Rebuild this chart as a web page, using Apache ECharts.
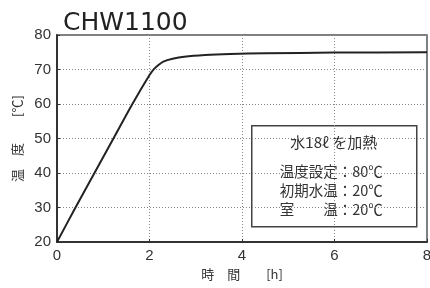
<!DOCTYPE html>
<html>
<head>
<meta charset="UTF-8">
<title>CHW1100</title>
<script src="https://cdn.jsdelivr.net/npm/echarts@6/dist/echarts.min.js"></script>
<style>
  html, body { margin: 0; padding: 0; background: #fff; }
  #chart { width: 430px; height: 288px; }
</style>
</head>
<body>
<div id="chart"></div>
<script>
// 時間 [h] と 温度 [℃]
var hours = [0, 0.4, 0.81, 1.22, 1.63, 2.0, 2.1, 2.2, 2.3, 2.5, 2.75, 3.2, 3.75, 4.5, 6, 8];
var temps = [20, 30, 40, 50, 60, 68.4, 70.2, 71.4, 72.3, 73.1, 73.7, 74.2, 74.5, 74.7, 74.9, 75];
var xTicks = [0, 2, 4, 6, 8];
var yTicks = [20, 30, 40, 50, 60, 70, 80];
var noteTitle = '水18ℓ を加熱';
var noteLines = ['温度設定：80℃', '初期水温：20℃', '室　　温：20℃'];

var jp = '"Noto Sans CJK JP", sans-serif';
var num = '"Liberation Sans", Arial, sans-serif';

var pts = [];
for (var i = 0; i < hours.length; i++) pts.push([hours[i], temps[i]]);

var chart = echarts.init(document.getElementById('chart'), null, { renderer: 'canvas' });

var noteChildren = [{
  type: 'rect',
  shape: { x: 0, y: 0, width: 165, height: 101 },
  style: { fill: '#fff', stroke: '#444', lineWidth: 1.5 }
}, {
  type: 'text',
  style: { x: 82, y: 17, text: noteTitle, fill: '#333', font: '15px ' + jp, textAlign: 'center', textVerticalAlign: 'middle' }
}];
for (var j = 0; j < noteLines.length; j++) {
  noteChildren.push({
    type: 'text',
    style: { x: 28, y: 46 + j * 19, text: noteLines[j], fill: '#333', font: '14.5px ' + jp, textVerticalAlign: 'middle' }
  });
}

chart.setOption({
  animation: false,
  title: {
    text: 'CHW1100',
    left: 58, top: 6,
    textStyle: { fontFamily: '"DejaVu Sans", sans-serif', fontSize: 25, fontWeight: 'normal', color: '#222' }
  },
  grid: {
    left: 57, right: 3, top: 35, bottom: 46,
    outerBoundsMode: 'none', containLabel: false,
    show: true, borderColor: '#555', borderWidth: 1.5
  },
  xAxis: {
    type: 'value', min: 0, max: 8, interval: 2,
    name: '時　間　　[h]', nameLocation: 'middle', nameGap: 24,
    nameTextStyle: { fontFamily: jp, fontSize: 13, color: '#333' },
    axisLine: { lineStyle: { color: '#333', width: 2 } },
    axisTick: { show: true, inside: true, length: 3, lineStyle: { color: '#333' } },
    axisLabel: { fontFamily: num, fontSize: 15, color: '#333', margin: 6 },
    splitLine: { show: true, lineStyle: { color: '#888', type: [1, 2], width: 1 } }
  },
  yAxis: {
    type: 'value', min: 20, max: 80, interval: 10,
    name: '温　度　　[℃]', nameLocation: 'middle', nameGap: 33,
    nameTextStyle: { fontFamily: jp, fontSize: 13, color: '#333' },
    axisLine: { show: true, lineStyle: { color: '#333', width: 2 } },
    axisTick: { show: true, inside: true, length: 3, lineStyle: { color: '#333' } },
    axisLabel: { fontFamily: num, fontSize: 15, color: '#333', margin: 6 },
    splitLine: { show: true, lineStyle: { color: '#888', type: [1, 2], width: 1 } }
  },
  series: [{
    type: 'line',
    data: pts,
    smooth: 0.25,
    showSymbol: false,
    lineStyle: { color: '#222', width: 2 }
  }],
  graphic: [{
    type: 'group',
    left: 251, top: 125,
    z: 100,
    children: noteChildren
  }]
});
</script>
</body>
</html>
